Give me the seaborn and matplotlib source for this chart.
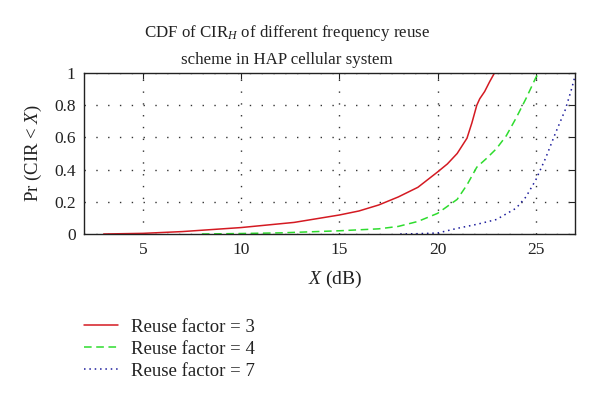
import matplotlib
matplotlib.use("Agg")
import matplotlib.pyplot as plt
import seaborn as sns
import pandas as pd

# Data
red_x = [3.0, 5.0, 7.0, 10.0, 12.7, 15.0, 16.0, 17.0, 18.0, 19.0, 20.0, 20.5, 21.0, 21.5, 21.75, 22.0, 22.15, 22.4, 22.65, 22.9]
red_y = [0.0, 0.004, 0.015, 0.04, 0.072, 0.118, 0.143, 0.18, 0.23, 0.29, 0.385, 0.435, 0.5, 0.595, 0.69, 0.80, 0.84, 0.885, 0.945, 1.0]

green_x = [8.0, 10.0, 12.0, 15.0, 17.0, 18.0, 19.0, 20.0, 21.0, 21.5, 22.0, 22.5, 23.0, 23.5, 24.0, 24.5, 25.0, 25.15]
green_y = [0.0, 0.003, 0.007, 0.02, 0.032, 0.047, 0.078, 0.128, 0.215, 0.305, 0.415, 0.47, 0.53, 0.61, 0.72, 0.84, 0.97, 1.0]

blue_x = [18.1, 19.0, 20.0, 21.0, 22.0, 23.0, 24.0, 24.5, 25.0, 25.5, 26.0, 26.5, 26.8, 27.0]
blue_y = [0.0, 0.002, 0.006, 0.035, 0.06, 0.09, 0.16, 0.23, 0.335, 0.47, 0.625, 0.77, 0.89, 0.98]

labels = ["Reuse factor = 3", "Reuse factor = 4", "Reuse factor = 7"]
colors = ["#d41a22", "#2edc2e", "#1c1c9c"]
styles = ["-", (0, (5, 3)), (0, (1, 2.5))]

x_ticks = [5, 10, 15, 20, 25]
y_ticks = [0, 0.2, 0.4, 0.6, 0.8, 1.0]
y_ticklabels = ["0", "0.2", "0.4", "0.6", "0.8", "1"]

frames = []
for xs, ys, lab in zip([red_x, green_x, blue_x], [red_y, green_y, blue_y], labels):
    frames.append(pd.DataFrame({"x": xs, "y": ys, "series": lab}))
df = pd.concat(frames, ignore_index=True)

sns.set_style("white")
plt.rcParams["font.family"] = ["Liberation Serif", "DejaVu Serif"]
plt.rcParams["mathtext.fontset"] = "custom"
plt.rcParams["mathtext.rm"] = "Liberation Serif"
plt.rcParams["mathtext.it"] = "Liberation Serif:italic"

W, H = 600, 401
fig = plt.figure(figsize=(6.0, 4.01), dpi=100)
ax = fig.add_axes([84 / W, 1 - 234 / H, (575 - 84) / W, (234 - 73) / H])

for lab, col, ls in zip(labels, colors, styles):
    sub = df[df["series"] == lab]
    sns.lineplot(data=sub, x="x", y="y", ax=ax, color=col, linestyle=ls,
                 linewidth=1.1, label=lab, sort=False)

ax.set_xlim(2, 27)
ax.set_ylim(0, 1)
ax.set_xticks(x_ticks)
ax.set_yticks(y_ticks)
ax.set_yticklabels(y_ticklabels)
ax.tick_params(axis="both", direction="in", length=4, width=0.8, labelsize=12.5,
               top=True, right=True, pad=6, colors="#222222")
ax.tick_params(axis="both", labelcolor="#222222")
ax.grid(True, color="#333333", linestyle=(0, (1, 7.5)), linewidth=1.0)
for sp in ax.spines.values():
    sp.set_color("#222222")
    sp.set_linewidth(1.0)

ax.set_xlabel("$X$ (dB)", fontsize=14, color="#222222")
ax.set_ylabel("Pr (CIR < $X$)", fontsize=13.5, color="#222222")
# place axis labels in figure pixel coordinates via axes fractions
ax.xaxis.set_label_coords((335 - 84) / (575 - 84), (234 - 279) / (234 - 73))
ax.xaxis.label.set_va("center")
ax.yaxis.set_label_coords((33 - 84) / (575 - 84), 0.5)
ax.yaxis.label.set_va("center")

fig.text(287 / W, 1 - 33 / H, "CDF of CIR$_H$ of different frequency reuse",
         ha="center", va="center", fontsize=12.2, color="#222222")
fig.text(287 / W, 1 - 60 / H, "scheme in HAP cellular system",
         ha="center", va="center", fontsize=12.2, color="#222222")

ax.legend(loc="upper left", bbox_to_anchor=(67 / W, 1 - 302 / H),
          bbox_transform=fig.transFigure, frameon=False, fontsize=13.5,
          handlelength=1.8, handletextpad=0.7, labelspacing=0.25,
          labelcolor="#222222")

fig.savefig("out.png", dpi=100)
